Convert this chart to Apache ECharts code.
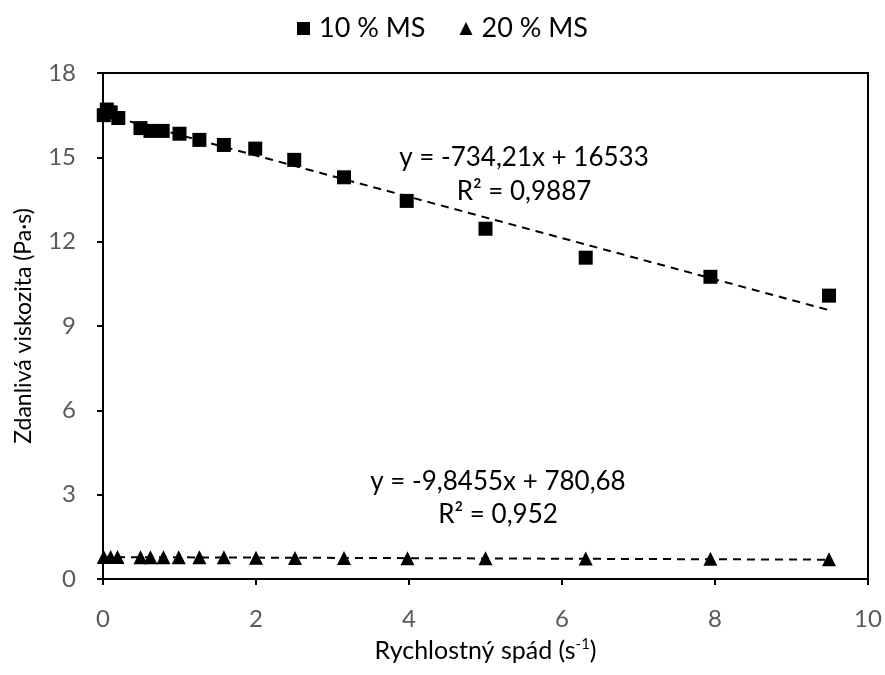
<!DOCTYPE html>
<html>
<head>
<meta charset="utf-8">
<script src="https://cdn.jsdelivr.net/npm/echarts@6/dist/echarts.min.js"></script>
<style>html,body{margin:0;padding:0;background:#fff;}#c{width:885px;height:675px;}</style>
</head>
<body>
<div id="c"></div>
<script>
// shear rate (s^-1)
var xMS10 = [0.01, 0.05, 0.1, 0.2, 0.49, 0.62, 0.78, 1.0, 1.26, 1.58, 1.99, 2.5, 3.15, 3.97, 5.0, 6.31, 7.94, 9.49];
var yMS10 = [16.5, 16.7, 16.6, 16.4, 16.04, 15.94, 15.94, 15.84, 15.62, 15.44, 15.31, 14.91, 14.29, 13.45, 12.46, 11.43, 10.75, 10.08];
var xMS20 = [0.01, 0.1, 0.19, 0.49, 0.62, 0.79, 0.99, 1.26, 1.58, 2.0, 2.51, 3.15, 3.98, 5.0, 6.31, 7.94, 9.49];
var yMS20 = [0.78, 0.78, 0.78, 0.77, 0.77, 0.77, 0.77, 0.77, 0.77, 0.76, 0.75, 0.75, 0.74, 0.74, 0.73, 0.72, 0.70];
// trend line fits (mPa·s): y = slope*x + intercept
var fit10 = [-734.21, 16533];
var fit20 = [-9.8455, 780.68];
var fitRange = [0, 9.5];
var seriesNames = ['10 % MS', '20 % MS'];
var fitLabels10 = ['y = -734,21x + 16533', 'R² = 0,9887'];
var fitLabels20 = ['y = -9,8455x + 780,68', 'R² = 0,952'];

function pts(xs, ys){ return xs.map(function(x,i){ return [x, ys[i]]; }); }
function fitLine(f){ return fitRange.map(function(x){ return [x, (f[0]*x + f[1]) / 1000]; }); }

var font = 'Lato, "Open Sans", "Liberation Sans", sans-serif';
var chart = echarts.init(document.getElementById('c'), null, {renderer: 'canvas'});

var gridL = 103, gridR = 17, gridT = 73, gridB = 96;

function lbl(text, x, y){
  return {type: 'text', x: x, y: y, style: {text: text, fontSize: 26, fill: '#000', fontFamily: font, align: 'center', verticalAlign: 'middle'}};
}

chart.setOption({
  animation: false,
  backgroundColor: '#ffffff',
  textStyle: {fontFamily: font},
  legend: {
    top: 10, left: 'center',
    itemWidth: 13, itemHeight: 13, itemGap: 34,
    textStyle: {fontSize: 27, color: '#000', fontFamily: font, padding: [0, 0, 0, 4]},
    data: [{name: seriesNames[0], icon: 'rect'}, {name: seriesNames[1], icon: 'triangle'}]
  },
  grid: {left: gridL, right: gridR, top: gridT, bottom: gridB, show: true, borderColor: '#000', borderWidth: 2},
  xAxis: {
    type: 'value', min: 0, max: 10, interval: 2,
    name: 'Rychlostný spád (s{sup|-1})',
    nameLocation: 'middle', nameGap: 58,
    nameTextStyle: {fontSize: 25, color: '#000', fontFamily: font,
      rich: {sup: {fontSize: 15, verticalAlign: 'top', padding: [0,0,12,0], color: '#000'}}},
    axisLine: {show: true, lineStyle: {color: '#000', width: 2}},
    axisTick: {show: true, length: 6, lineStyle: {color: '#000', width: 2}},
    axisLabel: {fontSize: 24, color: '#595959', margin: 28, fontFamily: font},
    splitLine: {show: false}
  },
  yAxis: {
    type: 'value', min: 0, max: 18, interval: 3,
    name: 'Zdanlivá viskozita (Pa·s)',
    nameLocation: 'middle', nameGap: 68, nameRotate: 90,
    nameTextStyle: {fontSize: 23, color: '#000', fontFamily: font},
    axisLine: {show: true, lineStyle: {color: '#000', width: 2}},
    axisTick: {show: true, length: 6, lineStyle: {color: '#000', width: 2}},
    axisLabel: {fontSize: 24, color: '#595959', margin: 27, fontFamily: font},
    splitLine: {show: false}
  },
  series: [
    {name: seriesNames[0], type: 'scatter', symbol: 'rect', symbolSize: 14, itemStyle: {color: '#000', opacity: 1}, data: pts(xMS10, yMS10), z: 3},
    {name: seriesNames[1], type: 'scatter', symbol: 'triangle', symbolSize: 14, itemStyle: {color: '#000', opacity: 1}, data: pts(xMS20, yMS20), z: 3},
    {name: 'fit10', type: 'line', symbol: 'none', data: fitLine(fit10), lineStyle: {color: '#000', width: 2, type: [8, 6]}, z: 2, silent: true},
    {name: 'fit20', type: 'line', symbol: 'none', data: fitLine(fit20), lineStyle: {color: '#000', width: 2, type: [8, 6]}, z: 2, silent: true}
  ],
  graphic: [
    lbl(fitLabels10[0], 524, 158),
    lbl(fitLabels10[1], 524, 192),
    lbl(fitLabels20[0], 498, 482),
    lbl(fitLabels20[1], 498, 515)
  ]
});
</script>
</body>
</html>
